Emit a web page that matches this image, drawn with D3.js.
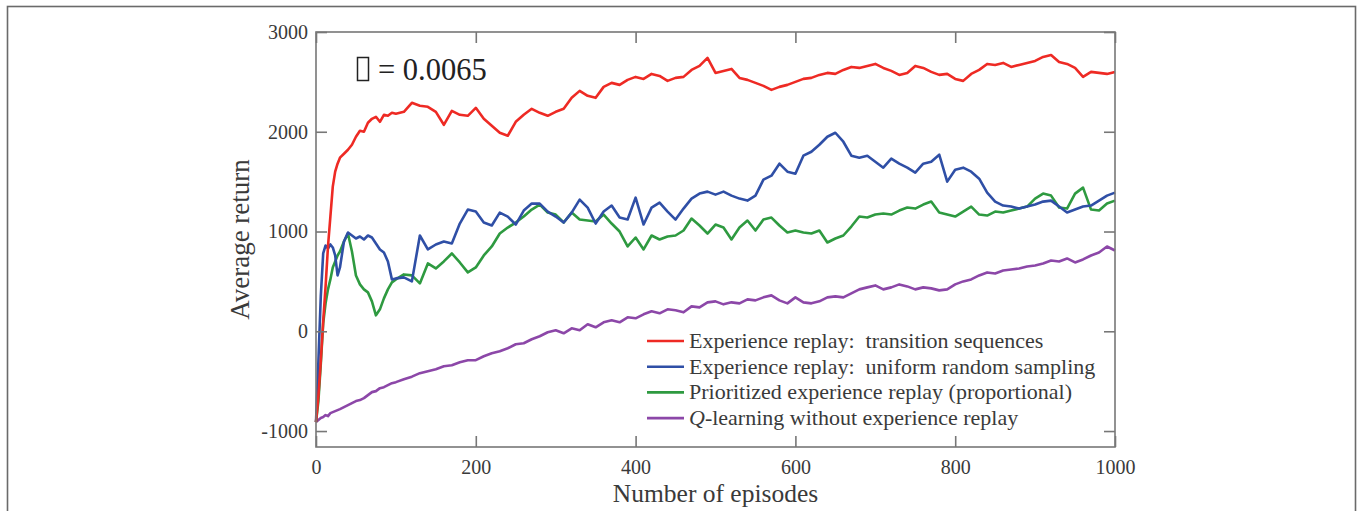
<!DOCTYPE html>
<html>
<head>
<meta charset="utf-8">
<script src="https://d3js.org/d3.v7.min.js"></script>
<style>
  body { margin: 0; background: #fff; }
  text { font-family: "Liberation Serif", "Times New Roman", serif; fill: #3a3a3a; }
  .axis path, .axis line { stroke: #777; }
</style>
</head>
<body>
<div id="container"></div>
<script>
var episodes = [0, 3, 6, 9, 12, 15, 18, 21, 24, 27, 30, 35, 40, 45, 50, 55, 60, 65, 70, 75, 80, 85, 90, 95, 100,
  110, 120, 130, 140, 150, 160, 170, 180, 190, 200, 210, 220, 230, 240, 250, 260, 270, 280, 290, 300,
  310, 320, 330, 340, 350, 360, 370, 380, 390, 400, 410, 420, 430, 440, 450, 460, 470, 480, 490, 500,
  510, 520, 530, 540, 550, 560, 570, 580, 590, 600, 610, 620, 630, 640, 650, 660, 670, 680, 690, 700,
  710, 720, 730, 740, 750, 760, 770, 780, 790, 800, 810, 820, 830, 840, 850, 860, 870, 880, 890, 900,
  910, 920, 930, 940, 950, 960, 970, 980, 990, 1000];

var transitionSeq = [-910, -650, -300, 100, 450, 850, 1150, 1450, 1600, 1680, 1740, 1780, 1820, 1870, 1950, 2010, 2000, 2090, 2130, 2150, 2100, 2170, 2160, 2190, 2180,
  2200, 2290, 2260, 2250, 2200, 2070, 2210, 2170, 2160, 2240, 2130, 2060, 1990, 1960, 2100, 2170, 2230, 2190, 2160, 2200,
  2230, 2340, 2410, 2360, 2340, 2450, 2490, 2470, 2520, 2550, 2530, 2580, 2560, 2510, 2540, 2550, 2620, 2660, 2740, 2590,
  2610, 2630, 2540, 2520, 2490, 2460, 2420, 2450, 2470, 2500, 2530, 2540, 2570, 2590, 2580, 2620, 2650, 2640, 2660, 2680,
  2640, 2610, 2570, 2590, 2660, 2640, 2600, 2570, 2580, 2530, 2510, 2580, 2620, 2680, 2670, 2690, 2650, 2670, 2690, 2710,
  2750, 2770, 2700, 2680, 2640, 2550, 2600, 2590, 2580, 2600];

var uniformSampling = [-910, -300, 350, 780, 860, 830, 870, 840, 760, 560, 640, 900, 990, 960, 930, 950, 920, 960, 940, 880, 820, 790, 700, 520, 530,
  540, 500, 960, 820, 870, 900, 880, 1080, 1220, 1200, 1090, 1060, 1190, 1150, 1070, 1210, 1280, 1280, 1200, 1150,
  1090, 1190, 1320, 1240, 1080, 1200, 1260, 1140, 1120, 1340, 1070, 1240, 1290, 1200, 1120, 1230, 1330, 1380, 1400, 1370,
  1400, 1360, 1330, 1310, 1360, 1520, 1560, 1680, 1600, 1580, 1760, 1800, 1870, 1950, 1990, 1900, 1760, 1740, 1760, 1700,
  1640, 1730, 1680, 1640, 1590, 1680, 1700, 1770, 1500, 1620, 1640, 1600, 1530, 1390, 1300, 1260, 1250, 1230, 1250, 1270,
  1300, 1310, 1250, 1190, 1220, 1250, 1260, 1310, 1360, 1390];

var prioritized = [-910, -700, -330, 80, 280, 420, 520, 640, 700, 760, 800, 900, 980, 800, 560, 470, 420, 390, 300, 160, 220, 330, 420, 490, 520,
  570, 560, 480, 680, 630, 700, 780, 690, 590, 640, 760, 850, 980, 1040, 1090, 1150, 1220, 1270, 1190, 1170,
  1090, 1190, 1120, 1110, 1100, 1170, 1080, 1000, 850, 940, 820, 960, 920, 950, 960, 1010, 1130, 1060, 980, 1070,
  1040, 920, 1040, 1110, 1010, 1120, 1140, 1060, 990, 1010, 990, 980, 1010, 890, 930, 960, 1050, 1150, 1140, 1170,
  1180, 1170, 1210, 1240, 1230, 1270, 1300, 1190, 1170, 1150, 1200, 1250, 1170, 1160, 1200, 1190, 1210, 1230, 1250, 1330,
  1380, 1360, 1240, 1230, 1380, 1440, 1220, 1210, 1280, 1310];

var qLearning = [-910, -890, -870, -860, -840, -850, -820, -810, -800, -790, -780, -760, -740, -720, -700, -690, -670, -640, -610, -600, -570, -560, -540, -520, -510,
  -480, -455, -420, -400, -380, -350, -340, -310, -290, -290, -250, -220, -200, -170, -130, -120, -80, -50, -10, 10,
  -20, 30, 10, 70, 40, 90, 110, 90, 140, 130, 170, 200, 180, 220, 210, 190, 250, 240, 290, 300,
  270, 290, 280, 320, 310, 340, 360, 310, 280, 340, 290, 280, 300, 340, 350, 340, 380, 420, 440, 460,
  420, 440, 470, 450, 420, 440, 430, 410, 420, 470, 500, 520, 560, 590, 580, 610, 620, 630, 650, 660,
  680, 710, 700, 730, 690, 720, 760, 790, 850, 810];

var seriesNames = ["Experience replay:  transition sequences",
                   "Experience replay:  uniform random sampling",
                   "Prioritized experience replay (proportional)",
                   "-learning without experience replay"];
var seriesColors = ["#ee2a24", "#2f4fa6", "#2e9a40", "#8c47a8"];
var xTicks = [0, 200, 400, 600, 800, 1000];
var yTicks = [-1000, 0, 1000, 2000, 3000];

/* setup the dimensions */
var W = 1357, H = 511;
var margin = { top: 32, bottom: 64, left: 316, right: 242 },
    width = W - margin.left - margin.right,
    height = H - margin.top - margin.bottom;

var svg = d3.select("#container")
            .append("svg")
            .attr("width", W)
            .attr("height", H);

// outer frame of the figure
svg.append("rect")
   .attr("x", 7.5).attr("y", 6.5)
   .attr("width", 1348).attr("height", 560)
   .attr("fill", "none")
   .attr("stroke", "#6a6a6a")
   .attr("stroke-width", 1.6);

var g = svg.append("g")
           .attr("transform", "translate(" + margin.left + "," + margin.top + ")");

var x = d3.scaleLinear().domain([0, 1000]).range([0, width]);
var y = d3.scaleLinear().domain([-1160, 3000]).range([height, 0]);

/* curves */
var series = [transitionSeq, uniformSampling, prioritized, qLearning];
var line = d3.line()
             .x(function(d, i) { return x(episodes[i]); })
             .y(function(d) { return y(d); });

// draw purple first so the others sit on top of it like in the figure
[3, 2, 1, 0].forEach(function(k) {
  g.append("path")
   .datum(series[k])
   .attr("d", line)
   .attr("fill", "none")
   .attr("stroke", seriesColors[k])
   .attr("stroke-width", 2.6)
   .attr("stroke-linejoin", "round");
});

/* axes, ticks point inwards on all four sides */
var tickLen = 11;
var plain = function(d) { return String(d); };
g.append("g").attr("class", "axis")
 .attr("transform", "translate(0," + height + ")")
 .call(d3.axisBottom(x).tickValues(xTicks).tickSizeInner(-tickLen).tickSizeOuter(0).tickPadding(13).tickFormat(plain))
 .call(function(a) { a.selectAll("text").style("font-size", "20px").style("font-family", "Liberation Serif"); });
g.append("g").attr("class", "axis")
 .call(d3.axisTop(x).tickValues(xTicks).tickSizeInner(-tickLen).tickSizeOuter(0).tickFormat(""));
g.append("g").attr("class", "axis")
 .call(d3.axisLeft(y).tickValues(yTicks).tickSizeInner(-tickLen).tickSizeOuter(0).tickPadding(8).tickFormat(plain))
 .call(function(a) { a.selectAll("text").style("font-size", "20px").style("font-family", "Liberation Serif"); });
g.append("g").attr("class", "axis")
 .attr("transform", "translate(" + width + ",0)")
 .call(d3.axisRight(y).tickValues(yTicks).tickSizeInner(-tickLen).tickSizeOuter(0).tickFormat(""));

g.selectAll(".axis .domain").remove();
g.append("rect")
 .attr("width", width).attr("height", height)
 .attr("fill", "none")
 .attr("stroke", "#777")
 .attr("stroke-width", 1.6);
g.selectAll(".axis line").attr("stroke", "#777").attr("stroke-width", 1.6);

/* axis titles */
svg.append("text")
   .attr("x", margin.left + width / 2).attr("y", 502)
   .attr("text-anchor", "middle")
   .style("font-size", "25.5px")
   .text("Number of episodes");
svg.append("text")
   .attr("transform", "translate(249," + (margin.top + height / 2) + ") rotate(-90)")
   .attr("text-anchor", "middle")
   .style("font-size", "27px")
   .text("Average return");

/* annotation: the symbol did not render in the source figure, it shows as an empty box */
svg.append("rect")
   .attr("x", 357.5).attr("y", 57.5)
   .attr("width", 11).attr("height", 23)
   .attr("fill", "none")
   .attr("stroke", "#222")
   .attr("stroke-width", 1.5);
svg.append("text")
   .attr("x", 378).attr("y", 80)
   .style("font-size", "30.5px")
   .style("fill", "#222")
   .text("= 0.0065");

/* legend */
var legend = svg.append("g").attr("transform", "translate(647,341)");
seriesNames.forEach(function(name, i) {
  var row = legend.append("g").attr("transform", "translate(0," + (i * 25.7) + ")");
  row.append("line")
     .attr("x1", 0).attr("x2", 37)
     .attr("stroke", seriesColors[i])
     .attr("stroke-width", 2.6);
  var t = row.append("text")
     .attr("x", 42).attr("y", 7)
     .style("font-size", "22px")
     .style("white-space", "pre");
  if (i === 3) t.append("tspan").style("font-style", "italic").text("Q");
  t.append("tspan").text(name);
});
</script>
</body>
</html>
